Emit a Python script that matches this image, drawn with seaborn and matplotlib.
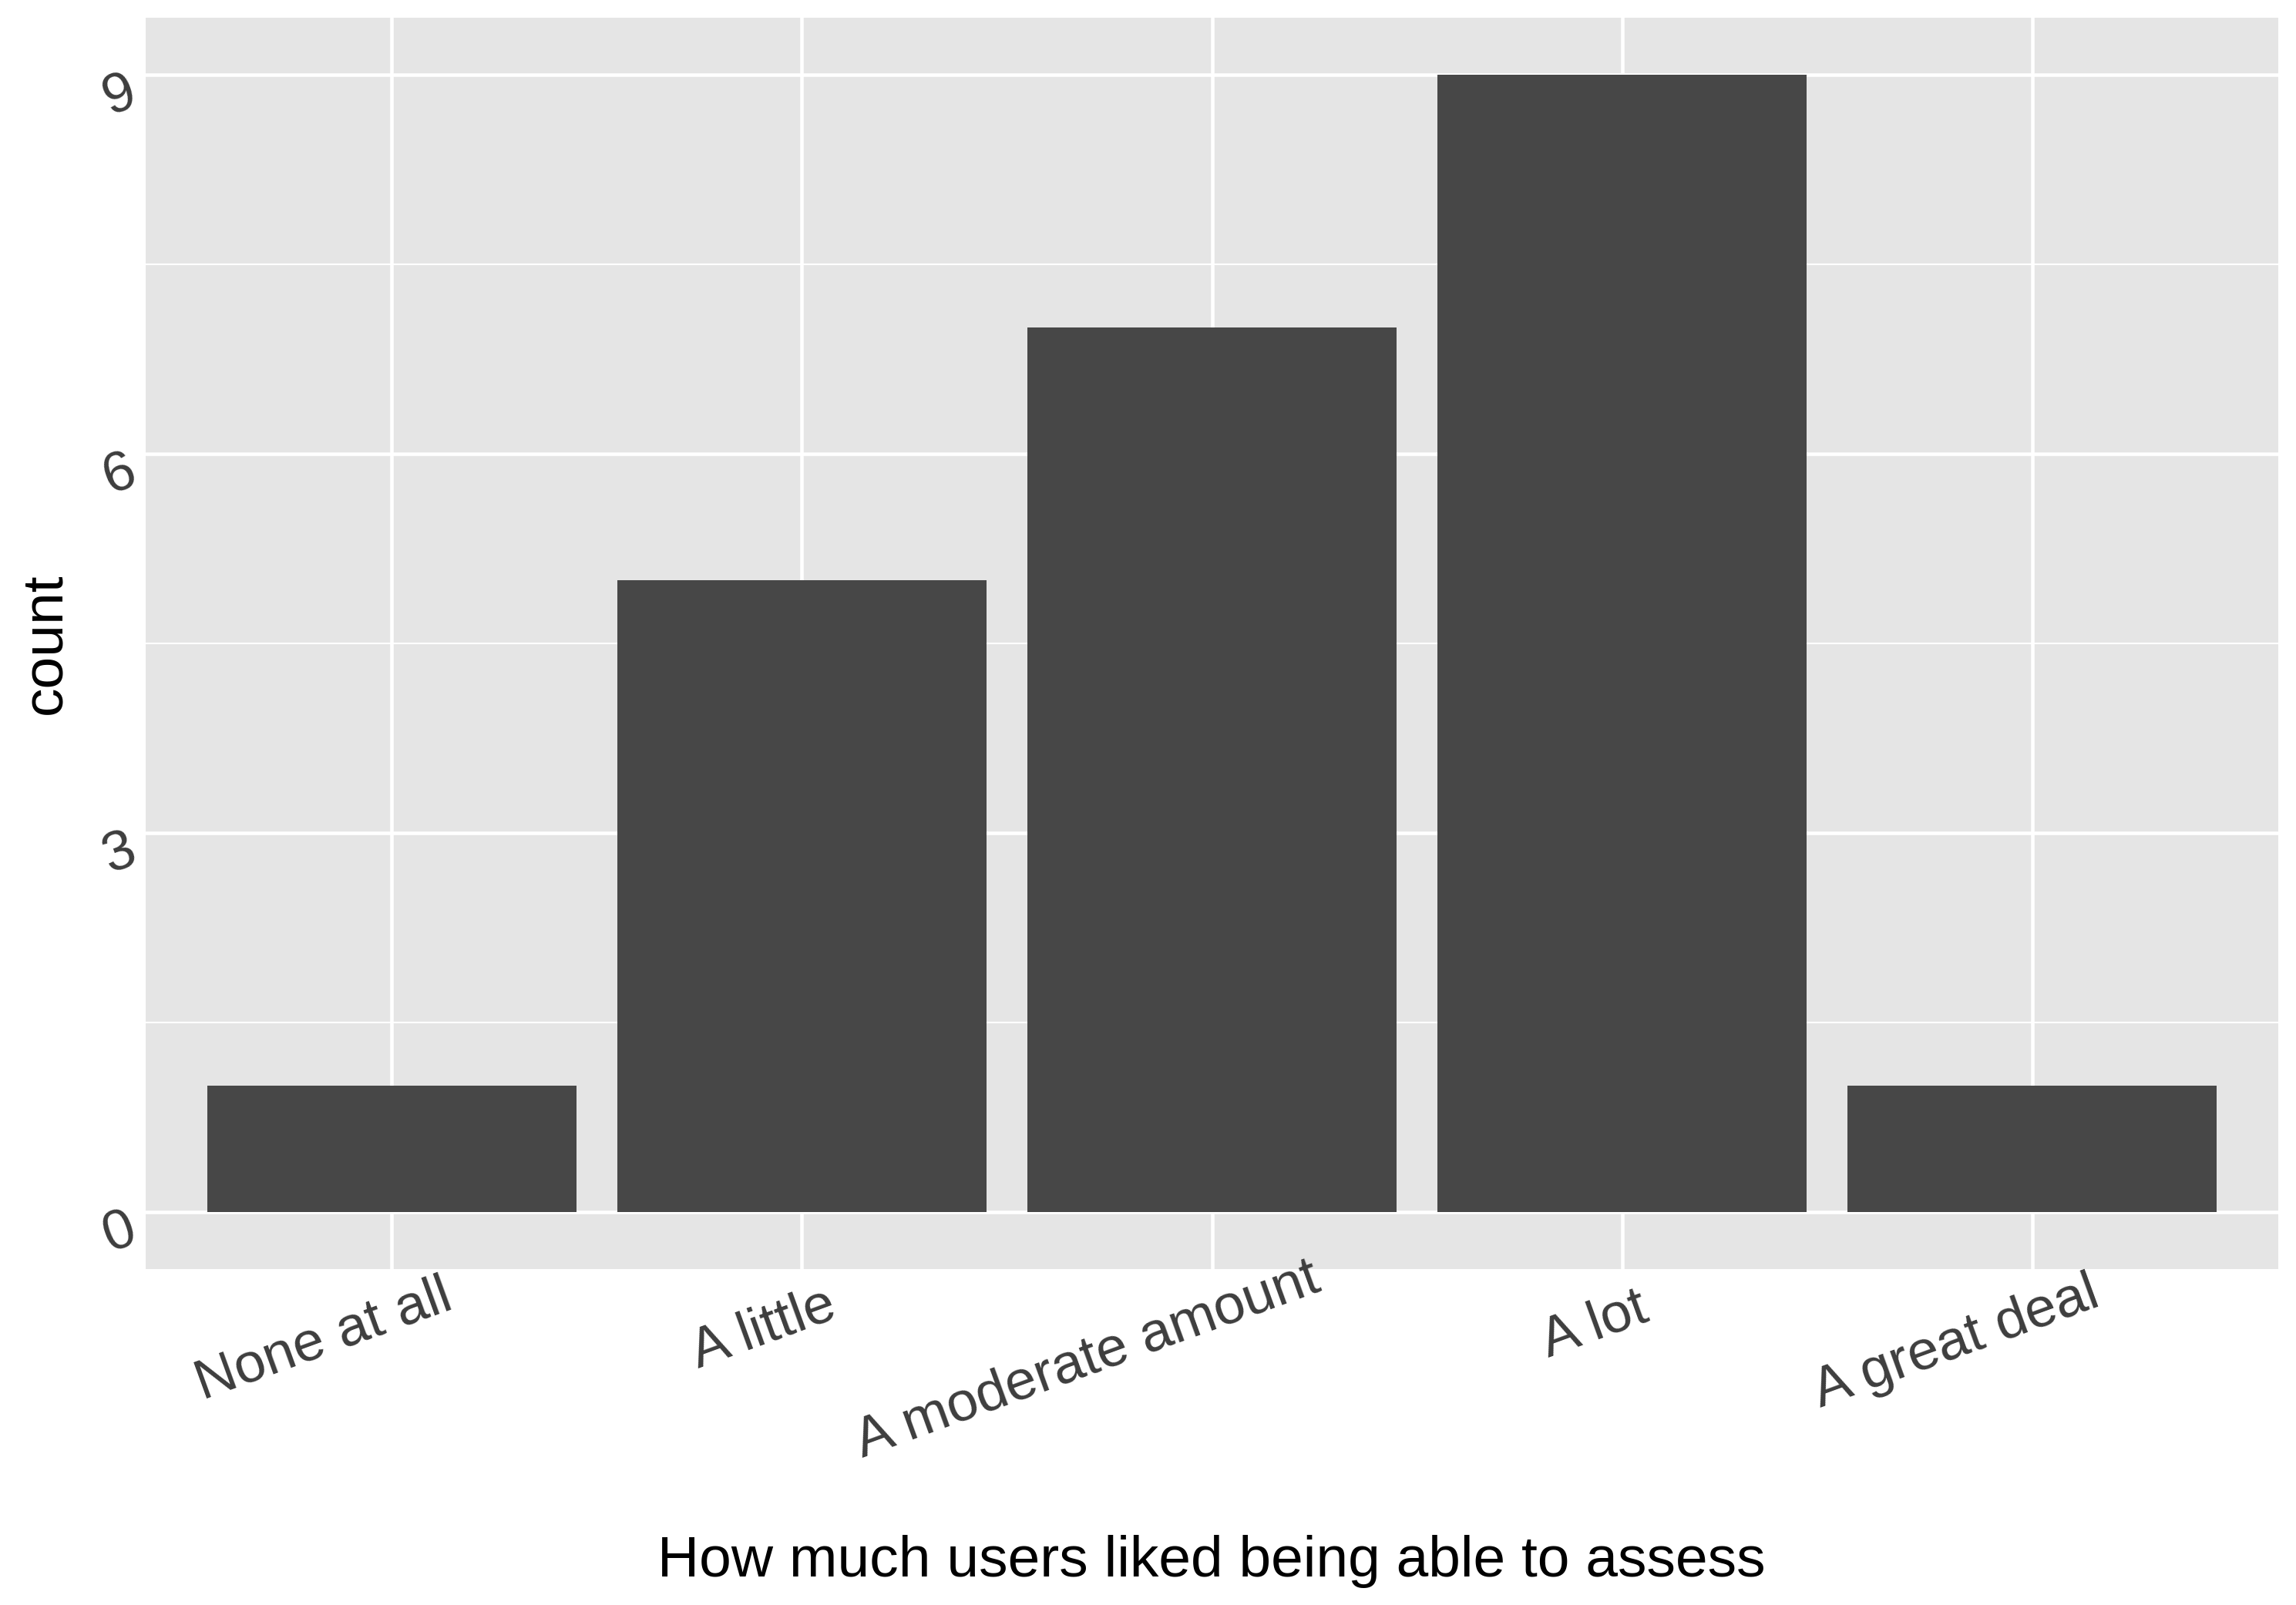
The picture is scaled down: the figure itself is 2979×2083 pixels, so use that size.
import matplotlib
matplotlib.use("Agg")
import matplotlib.pyplot as plt
import matplotlib.transforms as mtransforms
import seaborn as sns
import numpy as np

# data
categories = ["None at all", "A little", "A moderate amount", "A lot", "A great deal"]
counts = [1, 5, 7, 9, 1]
y_major = [0, 3, 6, 9]
y_minor = [1.5, 4.5, 7.5]
x_title = "How much users liked being able to assess"
y_title = "count"

sns.set_style("white")
plt.rcParams["font.family"] = ["Liberation Sans", "DejaVu Sans"]

DPI = 300
W, H = 2979, 2083
fig = plt.figure(figsize=(W / DPI, H / DPI), dpi=DPI)

# panel box in pixels: left 189, right 2956, top 23, bottom 1647
ax = fig.add_axes([189 / W, (H - 1647) / H, (2956 - 189) / W, (1647 - 23) / H])
ax.set_facecolor("#E5E5E5")

sns.barplot(x=categories, y=counts, color="#474747", saturation=1,
            width=0.9, linewidth=0, ax=ax, zorder=3)

ax.set_xlim(-0.6, 4.6)
ax.set_ylim(-0.45, 9.45)
ax.set_yticks(y_major)
ax.set_yticks(y_minor, minor=True)
ax.set_axisbelow(True)
ax.grid(which="major", color="white", linewidth=1.1, zorder=1)
ax.grid(which="minor", axis="y", color="white", linewidth=0.5, zorder=1)
for s in ax.spines.values():
    s.set_visible(False)

ax.tick_params(which="major", length=2.9, width=1.1, color="#333333",
               labelbottom=False, labelleft=False, direction="out")
ax.tick_params(which="minor", length=0)
ax.set_xlabel("")
ax.set_ylabel("")

tick_col = "#3D3D3D"
tick_size = 17.5
px = lambda v: v / DPI

# y tick labels, tilted like the x ones
ytrans = ax.get_yaxis_transform()
for v in y_major:
    off = mtransforms.ScaledTranslation(px(-34), px(-27), fig.dpi_scale_trans)
    ax.text(0, v, str(v), transform=ytrans + off, fontsize=tick_size, color=tick_col,
            rotation=20, rotation_mode="anchor", ha="center", va="center")

# x tick labels: measure width first, then rotate and shift
xtrans = ax.get_xaxis_transform()
labels = []
for i, c in enumerate(categories):
    t = ax.text(i, 0, c, transform=xtrans, fontsize=tick_size, color=tick_col,
                rotation=0, rotation_mode="anchor", ha="center", va="center")
    labels.append(t)
fig.canvas.draw()
ang = np.deg2rad(20)
for i, t in enumerate(labels):
    L = t.get_window_extent().width
    dx = -0.27 * L * np.cos(ang)
    dy = -60 - 0.27 * L * np.sin(ang)
    off = mtransforms.ScaledTranslation(px(dx), px(dy), fig.dpi_scale_trans)
    t.set_transform(xtrans + off)
    t.set_rotation(20)

fig.text(1572 / W, (H - 2046) / H, x_title, fontsize=18, color="black",
         ha="center", va="baseline")
fig.text(78 / W, (H - 835) / H, y_title, fontsize=18, color="black",
         rotation=90, rotation_mode="anchor", ha="center", va="baseline")

fig.savefig("out.png", dpi=DPI)
